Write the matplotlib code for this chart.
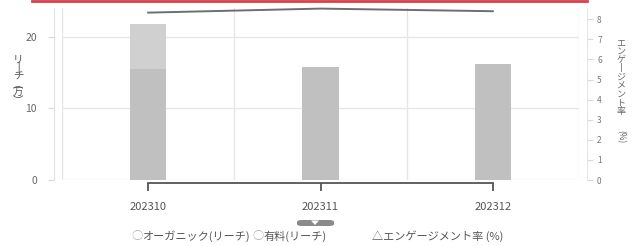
import matplotlib.pyplot as plt
from matplotlib.patches import FancyBboxPatch, Polygon
from matplotlib.lines import Line2D
import numpy as np

plt.rcParams['font.family'] = ['Noto Sans CJK JP', 'DejaVu Sans']

# data
months = ['202310', '202311', '202312']
organic = [15.5, 15.8, 16.2]      # リーチ(万) organic
paid = [6.3, 0.0, 0.0]            # リーチ(万) paid
engagement = [8.33, 8.53, 8.40]   # エンゲージメント率 (%)

W, H = 644, 246
fig = plt.figure(figsize=(W / 100, H / 100), dpi=100)
ax = fig.add_axes([62 / W, (H - 180) / H, 517 / W, 172 / H])
ax2 = ax.twinx()

x = np.arange(len(months))
ax.bar(x, organic, width=0.21, color='#c0c0c0', zorder=2)
ax.bar(x, paid, width=0.21, bottom=organic, color='#d0d0d0', zorder=2)

ax2.plot(x, engagement, color='#6e6e6e', lw=1.4, zorder=3, clip_on=False)

ax.set_xlim(-0.5, 2.5)
ax.set_ylim(0, 24.05)
ax2.set_ylim(0, 8.56)

# grid
ax.set_yticks([0, 10, 20])
ax.set_yticklabels(['0', '10', '20'])
ax.grid(axis='y', color='#e6e6e6', lw=1, zorder=0)
for xv in [-0.5, 0.5, 1.5, 2.5]:
    ax.axvline(xv, color='#e6e6e6', lw=1, zorder=0)
ax.set_axisbelow(True)

for s in ['top', 'right']:
    ax.spines[s].set_visible(False)
ax.spines['left'].set_position(('outward', 6))
ax.spines['left'].set_color('#e0e0e0')
ax.spines['bottom'].set_position(('outward', 2))
ax.spines['bottom'].set_bounds(0, 2)
ax.spines['bottom'].set_color('#555555')
ax.spines['bottom'].set_linewidth(1.3)

ax.set_xticks(x)
ax.set_xticklabels(months)
ax.tick_params(axis='x', length=6, width=1.3, color='#555555', colors='#555555',
               labelsize=8, pad=8)
ax.tick_params(axis='y', length=4, width=0.8, color='#d8d8d8', labelcolor='#666666',
               labelsize=7.5, pad=8)

for s in ['top', 'left', 'bottom']:
    ax2.spines[s].set_visible(False)
ax2.spines['right'].set_position(('outward', 6))
ax2.spines['right'].set_color('#e6e6e6')
ax2.set_yticks(range(0, 9))
ax2.tick_params(axis='y', length=4, width=0.8, color='#d8d8d8', labelcolor='#777777',
                labelsize=6, pad=3)

# red top rule
fig.add_artist(Line2D([32 / W, 587 / W], [1 - 1 / H, 1 - 1 / H], color='#c9474f', lw=2))

# vertical axis labels
fig.text(18 / W, (H - 55) / H, 'リ\n丨\nチ\n︵\n万\n︶', ha='center', va='top',
         fontsize=7.5, color='#555555', linespacing=0.78)
fig.text(621 / W, (H - 38) / H, 'エ\nン\nゲ\n丨\nジ\nメ\nン\nト\n率', ha='center', va='top',
         fontsize=6.5, color='#666666', linespacing=0.95)
fig.text(621 / W, (H - 137) / H, '(%)', ha='center', va='center', rotation=-90,
         fontsize=6, color='#666666')

# little toggle tab
tab = FancyBboxPatch((297 / W, (H - 226) / H), 37 / W, 6 / H,
                     boxstyle='round,pad=0,rounding_size=0.008', transform=fig.transFigure,
                     facecolor='#8a8a8a', edgecolor='none')
fig.add_artist(tab)
fig.add_artist(Polygon([[311 / W, (H - 220.5) / H], [319 / W, (H - 220.5) / H], [315 / W, (H - 225) / H]],
                       closed=True, transform=fig.transFigure, facecolor='white', edgecolor='none'))

# legend
fig.text(131 / W, (H - 236) / H, '○', ha='left', va='center', fontsize=8, color='#aaaaaa')
fig.text(142 / W, (H - 236) / H, 'オーガニック(リーチ)', ha='left', va='center', fontsize=8, color='#555555')
fig.text(252 / W, (H - 236) / H, '○', ha='left', va='center', fontsize=8, color='#aaaaaa')
fig.text(263 / W, (H - 236) / H, '有料(リーチ)', ha='left', va='center', fontsize=8, color='#555555')
fig.text(372 / W, (H - 236) / H, '△エンゲージメント率 (%)', ha='left', va='center', fontsize=8, color='#555555')

fig.savefig('out.png', dpi=100)
